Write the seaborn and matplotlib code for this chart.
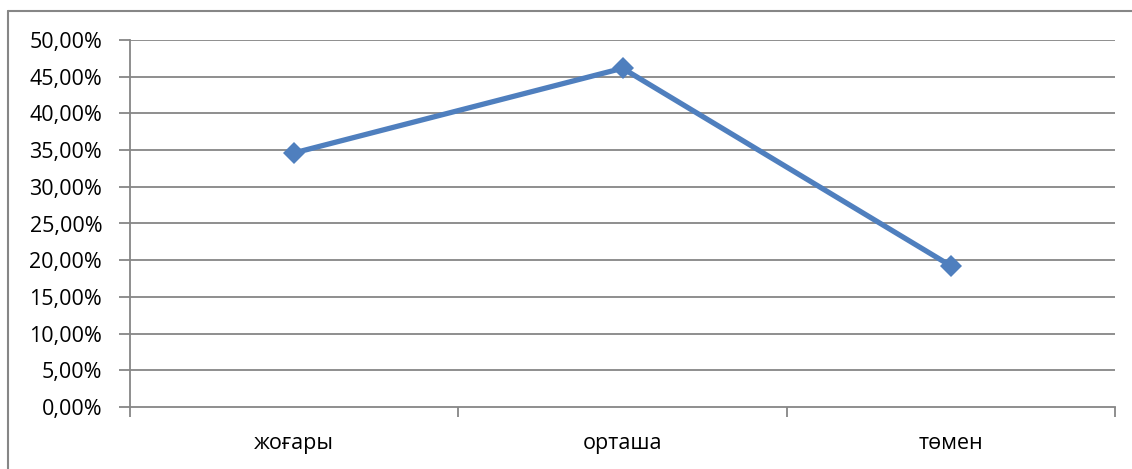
import matplotlib
matplotlib.use("Agg")
import matplotlib.pyplot as plt
import matplotlib.lines as mlines
from matplotlib.ticker import FixedLocator, FuncFormatter
import seaborn as sns
import pandas as pd

# Share of respondents by level
categories = ["жоғары", "орташа", "төмен"]
shares = [34.62, 46.15, 19.23]   # percent
y_ticks = [0, 5, 10, 15, 20, 25, 30, 35, 40, 45, 50]

sns.set_theme(style="white")
plt.rcParams["font.family"] = ["Open Sans", "DejaVu Sans"]

df = pd.DataFrame({"pos": range(len(categories)), "share": shares})

fig = plt.figure(figsize=(11.32, 4.69), dpi=100)
ax = fig.add_axes([130 / 1132, 62 / 469, 985 / 1132, 367 / 469])

grid_color = "#868686"
for v in y_ticks[1:]:
    ax.axhline(v, color=grid_color, lw=1.3, zorder=0)

sns.lineplot(data=df, x="pos", y="share", ax=ax, color="#4F7FBE", lw=3.8,
             marker="D", markersize=11, markeredgewidth=0, zorder=3)

ax.set_xlim(-0.5, len(categories) - 0.5)
ax.set_ylim(0, 50)
ax.set_xlabel("")
ax.set_ylabel("")

for side in ["top", "right"]:
    ax.spines[side].set_visible(False)
for side in ["left", "bottom"]:
    ax.spines[side].set_color(grid_color)
    ax.spines[side].set_linewidth(1.3)

ax.yaxis.set_major_locator(FixedLocator(y_ticks))
ax.yaxis.set_major_formatter(FuncFormatter(lambda v, p: f"{v:.2f}".replace(".", ",") + "%"))
ax.tick_params(axis="y", direction="out", length=8, width=1.3, color=grid_color,
               labelsize=15.5, labelcolor="#000000", pad=12, left=True)

# tick marks sit between categories; labels sit under each category
ax.xaxis.set_major_locator(FixedLocator([i - 0.5 for i in range(len(categories) + 1)]))
ax.xaxis.set_major_formatter(FuncFormatter(lambda v, p: ""))
ax.xaxis.set_minor_locator(FixedLocator(list(range(len(categories)))))
ax.set_xticklabels(categories, minor=True)
ax.tick_params(axis="x", which="major", direction="out", length=7, width=1.3,
               color=grid_color, bottom=True)
ax.tick_params(axis="x", which="minor", length=0, labelsize=15.5,
               labelcolor="#000000", pad=19, bottom=True)

# chart area outline
fig.add_artist(mlines.Line2D([8 / 1132, 8 / 1132], [0, 1 - 11 / 469],
                             transform=fig.transFigure, color=grid_color, lw=1.5))
fig.add_artist(mlines.Line2D([8 / 1132, 1], [1 - 11 / 469, 1 - 11 / 469],
                             transform=fig.transFigure, color=grid_color, lw=1.5))

fig.savefig("out.png", dpi=100, facecolor="white")
